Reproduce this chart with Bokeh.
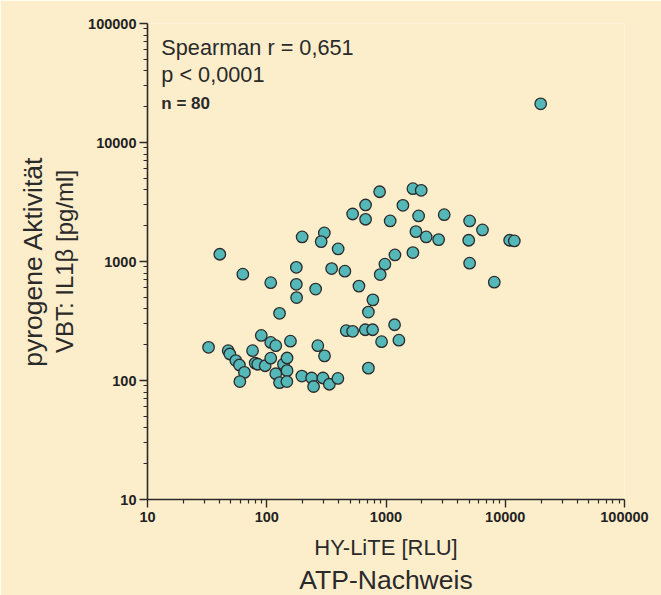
from bokeh.plotting import figure
from bokeh.models import ColumnDataSource, Range1d, FixedTicker, Label, Title
from bokeh.embed import file_html
from bokeh.resources import INLINE

# ---- data ----
rlu = [32.5, 47.5, 49, 55, 59, 65, 59.5, 76, 90, 80, 84, 97, 108, 119, 108, 119, 128, 128,
       158, 138, 148, 148, 147.5, 197, 178, 238, 247, 268, 305, 296, 335, 395, 464, 525,
       670, 772, 918, 712, 712, 776, 1180, 1283, 40.4, 63, 108, 177, 177,
       198, 304, 286, 257, 350, 884, 1681, 1974, 674, 525, 674, 1386, 1084, 1877, 3077,
       5026, 6440, 4939, 10890, 11910, 1782, 2173, 2762, 397, 452, 1188, 979, 894, 1681,
       5026, 8091, 593, 19820]
il1b = [190, 178, 167, 147, 135, 117, 98, 178, 239, 140, 137, 133, 209, 196, 154, 114, 96, 367,
        214, 137, 154.5, 121, 98, 109, 498, 105, 89, 196, 161, 105, 93, 104, 262, 259,
        267, 267, 212, 127, 376, 476, 294, 218, 1151, 782, 664, 893, 643,
        1608, 1738, 1469, 587, 872, 3857, 4090, 3966, 2985, 2508, 2264, 2966, 2191, 2414, 2473,
        2191, 1841, 1509, 1509, 1489, 1782, 1608, 1527, 1276, 829, 1136, 949, 777, 1188,
        968, 670, 621, 21130]

x_ticks = [10, 100, 1000, 10000, 100000]
x_tick_labels = ["10", "100", "1000", "10000", "100000"]
y_ticks = [10, 100, 1000, 10000, 100000]
y_tick_labels = ["10", "100", "1000", "10000", "100000"]

x_title_1 = "HY-LiTE [RLU]"
x_title_2 = "ATP-Nachweis"
y_title_1 = "pyrogene Aktivität"
y_title_2 = "VBT: IL1β [pg/ml]"
stat_lines = ["Spearman r = 0,651", "p < 0,0001", "n = 80"]

BG = "#FDEECB"
FONT = "Liberation Sans"
AX = "#2a2a2a"
TXT = "#2a2a2a"

p = figure(width=661, height=595, x_axis_type="log", y_axis_type="log",
           x_range=Range1d(10, 100000), y_range=Range1d(10, 100000),
           output_backend="svg", toolbar_location=None,
           min_border_left=147, min_border_right=37, min_border_top=23, min_border_bottom=96)
p.background_fill_color = BG
p.border_fill_color = BG
p.outline_line_color = None
p.grid.visible = False

minor = [m * 10 ** d for d in range(1, 5) for m in range(2, 10)]
for ax, ticks, labels in ((p.xaxis, x_ticks, x_tick_labels), (p.yaxis, y_ticks, y_tick_labels)):
    ax.ticker = FixedTicker(ticks=ticks, minor_ticks=minor)
    ax.major_label_overrides = {t: l for t, l in zip(ticks, labels)}
    ax.axis_line_color = AX
    ax.axis_line_width = 1.6
    ax.major_tick_line_color = AX
    ax.minor_tick_line_color = AX
    ax.major_tick_line_width = 1.4
    ax.minor_tick_line_width = 1.2
    ax.major_tick_in = 0
    ax.minor_tick_in = 0
    ax.major_tick_out = 8
    ax.minor_tick_out = 4
    ax.major_label_text_font = FONT
    ax.major_label_text_font_style = "bold"
    ax.major_label_text_font_size = "14.5px"
    ax.major_label_text_color = "#222222"
    ax.axis_label_text_font = FONT
    ax.axis_label_text_font_style = "normal"
    ax.axis_label_text_color = TXT
p.xaxis.major_label_standoff = 4
p.yaxis.major_label_standoff = 3

p.xaxis.axis_label = x_title_1
p.xaxis.axis_label_text_font_size = "22px"
p.xaxis.axis_label_standoff = 10
p.yaxis.axis_label = y_title_2
p.yaxis.axis_label_text_font_size = "24px"
p.yaxis.axis_label_standoff = 7

p.add_layout(Title(text=x_title_2, align="center", text_font=FONT, text_font_size="26.5px",
                   text_font_style="normal", text_color=TXT, standoff=0, offset=0), "below")
p.add_layout(Title(text=y_title_1, align="center", text_font=FONT, text_font_size="26.5px",
                   text_font_style="normal", text_color=TXT, standoff=2, offset=0), "left")

src = ColumnDataSource(dict(x=rlu, y=il1b))
p.scatter("x", "y", source=src, size=11.5, fill_color="#55B8B8",
          line_color="#2b2b2b", line_width=1.3)

# stats text
p.add_layout(Label(x=13.06, y=62370, text=stat_lines[0], text_font=FONT,
                   text_font_size="21.7px", text_color=TXT, text_baseline="middle"))
p.add_layout(Label(x=13.06, y=37240, text=stat_lines[1], text_font=FONT,
                   text_font_size="21.7px", text_color=TXT, text_baseline="middle"))
p.add_layout(Label(x=13.06, y=21280, text=stat_lines[2], text_font=FONT,
                   text_font_size="17px", text_font_style="bold", text_color=TXT,
                   text_baseline="middle"))

open("out.html", "w").write(file_html(p, INLINE))
